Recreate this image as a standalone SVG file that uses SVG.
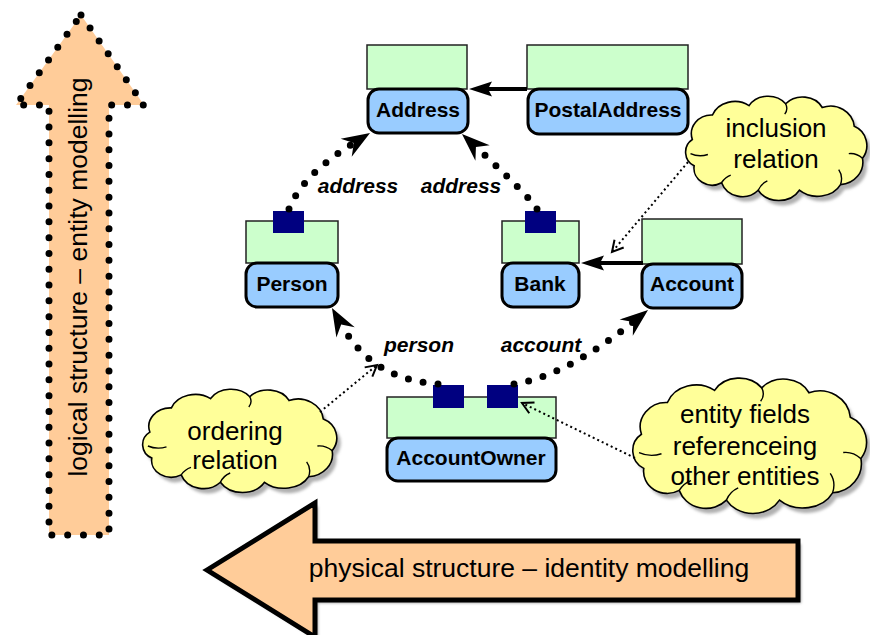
<svg xmlns="http://www.w3.org/2000/svg" xmlns:xlink="http://www.w3.org/1999/xlink" width="870" height="635" viewBox="0 0 870 635">
  <style>
    text { font-family: "Liberation Sans", Arial, sans-serif; fill: #000; }
    .entity { fill: #CCFFCC; stroke: #222; stroke-width: 1.5; }
    .identity { fill: #99CCFF; stroke: #000; stroke-width: 3; }
    .field { fill: #000080; }
    .nodelabel { font-size: 21px; font-weight: bold; text-anchor: middle; }
    .role { font-size: 21px; font-weight: bold; font-style: italic; text-anchor: middle; }
    .note { font-size: 26px; text-anchor: middle; }
    .bigtext { font-size: 26.5px; text-anchor: middle; }
    .cloud { fill: #FFFF99; stroke: #000; stroke-width: 1.6; }
    .cloud-shadow { fill: #B0B0B0; stroke: none; filter: url(#soft); }
    .cloud-inner { fill: none; stroke: #000; stroke-width: 1.4; }
    .ref { fill: none; stroke: #000; stroke-width: 7; stroke-linecap: round; stroke-dasharray: 0 15; marker-end: url(#fancy); }
    .inherit { fill: none; stroke: #000; stroke-width: 4; marker-end: url(#solid); }
    .callout { fill: none; stroke: #000; stroke-width: 2; stroke-dasharray: 2 3; marker-end: url(#open); }
    .peach { fill: #FFCC99; }
  </style>
  <defs>
    <filter id="soft" x="-10%" y="-10%" width="120%" height="120%">
      <feGaussianBlur stdDeviation="1.5"/>
    </filter>
    <!-- reference arrowhead: notched, extends past the path end -->
    <marker id="fancy" markerUnits="userSpaceOnUse" viewBox="-12 -12 32 24" refX="0" refY="0" markerWidth="32" markerHeight="24" orient="auto" overflow="visible">
      <path d="M18,0 L-10,-10.5 L-1,0 L-10,10.5 Z" fill="#000"/>
    </marker>
    <!-- inheritance arrowhead -->
    <marker id="solid" markerUnits="userSpaceOnUse" viewBox="-10 -9 28 18" refX="0" refY="0" markerWidth="28" markerHeight="18" orient="auto" overflow="visible">
      <path d="M15,0 L-8,-7.5 L-4,0 L-8,7.5 Z" fill="#000"/>
    </marker>
    <!-- open callout arrowhead -->
    <marker id="open" markerUnits="userSpaceOnUse" viewBox="-14 -8 16 16" refX="0" refY="0" markerWidth="16" markerHeight="16" orient="auto" overflow="visible">
      <path d="M-11,-6 L0,0 L-11,6" fill="none" stroke="#000" stroke-width="2"/>
    </marker>
    <!-- cloud outline in a 200x100 box -->
    <path id="cloud-shape" vector-effect="non-scaling-stroke" d="M 8 42 A 22 20 0 0 1 30 16 A 26 22 0 0 1 70 6 A 24 20 0 0 1 110 4 A 24 20 0 0 1 150 8 A 26 24 0 0 1 185 28 A 22 22 0 0 1 194 62 A 26 24 0 0 1 170 90 A 28 22 0 0 1 125 96 A 26 22 0 0 1 80 96 A 24 22 0 0 1 40 88 A 20 18 0 0 1 10 70 A 16 16 0 0 1 8 42 Z"/>
    <path id="cloud-curls" vector-effect="non-scaling-stroke" d="M 6 57 Q 15 61 25 58 M 170 90 Q 173 81 168 74 M 194 62 Q 187 56 179 57 M 80 96 Q 83 89 90 86 M 110 4 Q 113 10 109 15 M 40 88 Q 44 82 50 80"/>
  </defs>

  <!-- vertical arrow: logical structure -->
  <g id="logical-arrow">
    <polygon class="peach" points="81,15 144,105 109,105 109,535 49,535 49,105 16,105" stroke="#000" stroke-width="7" stroke-linecap="round" stroke-linejoin="round" stroke-dasharray="0 15.8"/>
    <text class="bigtext" transform="translate(87,277) rotate(-90)">logical structure – entity modelling</text>
  </g>

  <!-- horizontal arrow: physical structure -->
  <g id="physical-arrow">
    <polygon points="207,570 315,503 315,541 798,541 798,600 315,600 315,637" transform="translate(3,3)" fill="#A0A0A0" filter="url(#soft)"/>
    <polygon class="peach" points="207,570 315,503 315,541 798,541 798,600 315,600 315,637" stroke="#000" stroke-width="5" stroke-linejoin="miter"/>
    <text class="bigtext" x="529" y="577">physical structure – identity modelling</text>
  </g>

  <!-- notes -->
  <g id="note-inclusion">
    <use xlink:href="#cloud-shape" class="cloud-shadow" transform="translate(689,105) scale(0.915,0.94)"/>
    <use xlink:href="#cloud-shape" class="cloud" transform="translate(685,100) scale(0.915,0.94)"/>
    <use xlink:href="#cloud-curls" class="cloud-inner" transform="translate(685,100) scale(0.915,0.94)"/>
    <text class="note" x="776" y="137">inclusion</text>
    <text class="note" x="776" y="168">relation</text>
  </g>
  <g id="note-ordering">
    <use xlink:href="#cloud-shape" class="cloud-shadow" transform="translate(146,398) scale(0.98,0.93)"/>
    <use xlink:href="#cloud-shape" class="cloud" transform="translate(142,393) scale(0.98,0.93)"/>
    <use xlink:href="#cloud-curls" class="cloud-inner" transform="translate(142,393) scale(0.98,0.93)"/>
    <text class="note" x="235" y="440">ordering</text>
    <text class="note" x="235" y="469">relation</text>
  </g>
  <g id="note-fields">
    <use xlink:href="#cloud-shape" class="cloud-shadow" transform="translate(636,388) scale(1.18,1.22)"/>
    <use xlink:href="#cloud-shape" class="cloud" transform="translate(632,383) scale(1.18,1.22)"/>
    <use xlink:href="#cloud-curls" class="cloud-inner" transform="translate(632,383) scale(1.18,1.22)"/>
    <text class="note" x="745" y="423">entity fields</text>
    <text class="note" x="745" y="455">referenceing</text>
    <text class="note" x="745" y="485">other entities</text>
  </g>

  <!-- entities -->
  <g id="node-Address">
    <rect class="entity" x="367" y="45" width="100" height="44"/>
    <rect class="identity" x="368" y="89" width="100" height="44" rx="11"/>
    <text class="nodelabel" x="418" y="117">Address</text>
  </g>
  <g id="node-PostalAddress">
    <rect class="entity" x="527" y="45" width="161" height="44"/>
    <rect class="identity" x="528" y="89" width="160" height="45" rx="11"/>
    <text class="nodelabel" x="608" y="117">PostalAddress</text>
  </g>
  <g id="node-Person">
    <rect class="entity" x="246" y="221" width="92" height="42"/>
    <rect class="identity" x="246" y="263" width="92" height="44" rx="11"/>
    <rect class="field" x="273" y="211" width="31" height="22"/>
    <text class="nodelabel" x="292" y="291">Person</text>
  </g>
  <g id="node-Bank">
    <rect class="entity" x="502" y="221" width="77" height="42"/>
    <rect class="identity" x="502" y="263" width="77" height="44" rx="11"/>
    <rect class="field" x="525" y="211" width="31" height="22"/>
    <text class="nodelabel" x="540" y="291">Bank</text>
  </g>
  <g id="node-Account">
    <rect class="entity" x="642" y="219" width="100" height="45"/>
    <rect class="identity" x="642" y="264" width="100" height="44" rx="11"/>
    <text class="nodelabel" x="692" y="291">Account</text>
  </g>
  <g id="node-AccountOwner">
    <rect class="entity" x="387" y="397" width="169" height="41"/>
    <rect class="identity" x="387" y="438" width="169" height="43" rx="11"/>
    <rect class="field" x="433" y="385" width="31" height="23"/>
    <rect class="field" x="487" y="385" width="31" height="23"/>
    <text class="nodelabel" x="471" y="465">AccountOwner</text>
  </g>

  <!-- connectors -->
  <g id="connectors">
    <path class="ref" d="M 289 209 Q 302 175 354.7 142.5"/>
    <path class="ref" d="M 537 209 Q 529 196 475.2 146.2"/>
    <path class="ref" d="M 438 384 Q 372 380 340.7 323.7"/>
    <path class="ref" d="M 514 384 Q 566 376 634 321.3"/>
    <path class="inherit" d="M 527 89 L 484 89"/>
    <path class="inherit" d="M 643 263 L 596 263"/>
    <path class="callout" d="M 688 162 L 612 252"/>
    <path class="callout" d="M 320 412 L 377 365"/>
    <path class="callout" d="M 635 458 L 522 403"/>
    <text class="role" x="358" y="193">address</text>
    <text class="role" x="461" y="193">address</text>
    <text class="role" x="419" y="352">person</text>
    <text class="role" x="541" y="352">account</text>
  </g>
</svg>
